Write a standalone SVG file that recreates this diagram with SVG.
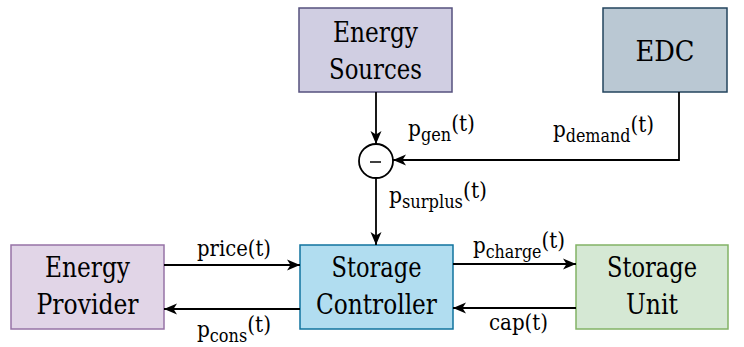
<svg xmlns="http://www.w3.org/2000/svg" width="744" height="347" viewBox="0 0 744 347">
<defs>
<marker id="arr" markerUnits="userSpaceOnUse" markerWidth="14" markerHeight="12" refX="13" refY="6" orient="auto">
<path d="M0,0.5 L13,6 L0,11.5 L3.5,6 z" fill="#000"/>
</marker>
<style>
text{font-family:"DejaVu Serif Condensed","DejaVu Serif","Liberation Serif",serif;font-stretch:condensed}
.n{stroke-width:1.5}
.t{font-size:27px;fill:#000;text-anchor:middle}
.l{font-size:22.5px;fill:#000}
.s{font-size:18px}
.c{fill:none;stroke:#000;stroke-width:1.8;marker-end:url(#arr)}
</style>
</defs>
<g id="energy-sources">
<rect class="n" x="299" y="8" width="153" height="84" fill="#d0cee2" stroke="#56517e"/>
<text class="t" x="375.5" y="42" textLength="85" lengthAdjust="spacingAndGlyphs">Energy</text>
<text class="t" x="375.5" y="79" textLength="93" lengthAdjust="spacingAndGlyphs">Sources</text>
</g>
<g id="edc">
<rect class="n" x="603" y="8" width="124" height="84" fill="#bac8d3" stroke="#23445d"/>
<text class="t" x="665" y="61" textLength="59" lengthAdjust="spacingAndGlyphs">EDC</text>
</g>
<g id="subtract">
<circle cx="376" cy="161" r="17" fill="#fff" stroke="#000" stroke-width="1.8"/>
<line x1="370" y1="162" x2="381" y2="162" stroke="#000" stroke-width="1.5"/>
</g>
<g id="energy-provider">
<rect class="n" x="11" y="245" width="153" height="84" fill="#e1d5e7" stroke="#9673a6"/>
<text class="t" x="87.5" y="277" textLength="85" lengthAdjust="spacingAndGlyphs">Energy</text>
<text class="t" x="87.5" y="314" textLength="102" lengthAdjust="spacingAndGlyphs">Provider</text>
</g>
<g id="storage-controller">
<rect class="n" x="300" y="245" width="153" height="84" fill="#b1ddf0" stroke="#10739e"/>
<text class="t" x="376.5" y="277" textLength="90" lengthAdjust="spacingAndGlyphs">Storage</text>
<text class="t" x="376.5" y="314" textLength="121" lengthAdjust="spacingAndGlyphs">Controller</text>
</g>
<g id="storage-unit">
<rect class="n" x="576" y="245" width="152" height="84" fill="#d5e8d4" stroke="#82b366"/>
<text class="t" x="652" y="277" textLength="90" lengthAdjust="spacingAndGlyphs">Storage</text>
<text class="t" x="652" y="314" textLength="52" lengthAdjust="spacingAndGlyphs">Unit</text>
</g>
<g id="connectors">
<path class="c" d="M376,92 V144"/>
<path class="c" d="M679,92 V160 H393"/>
<path class="c" d="M376,178 V245"/>
<path class="c" d="M164,265 H300"/>
<path class="c" d="M300,309 H164"/>
<path class="c" d="M453,264 H576"/>
<path class="c" d="M576,308 H453"/>
</g>
<g id="labels">
<text class="l" x="408" y="136" textLength="67" lengthAdjust="spacingAndGlyphs">p<tspan class="s" dy="5">gen</tspan><tspan dy="-10">(t)</tspan></text>
<text class="l" x="389" y="203" textLength="98" lengthAdjust="spacingAndGlyphs">p<tspan class="s" dy="5">surplus</tspan><tspan dy="-10">(t)</tspan></text>
<text class="l" x="553" y="137" textLength="101" lengthAdjust="spacingAndGlyphs">p<tspan class="s" dy="5">demand</tspan><tspan dy="-10">(t)</tspan></text>
<text class="l" x="197" y="256" textLength="74" lengthAdjust="spacingAndGlyphs">price(t)</text>
<text class="l" x="197" y="337" textLength="74" lengthAdjust="spacingAndGlyphs">p<tspan class="s" dy="5">cons</tspan><tspan dy="-10">(t)</tspan></text>
<text class="l" x="473" y="253" textLength="92" lengthAdjust="spacingAndGlyphs">p<tspan class="s" dy="5">charge</tspan><tspan dy="-10">(t)</tspan></text>
<text class="l" x="489" y="330" textLength="59" lengthAdjust="spacingAndGlyphs">cap(t)</text>
</g>
</svg>
